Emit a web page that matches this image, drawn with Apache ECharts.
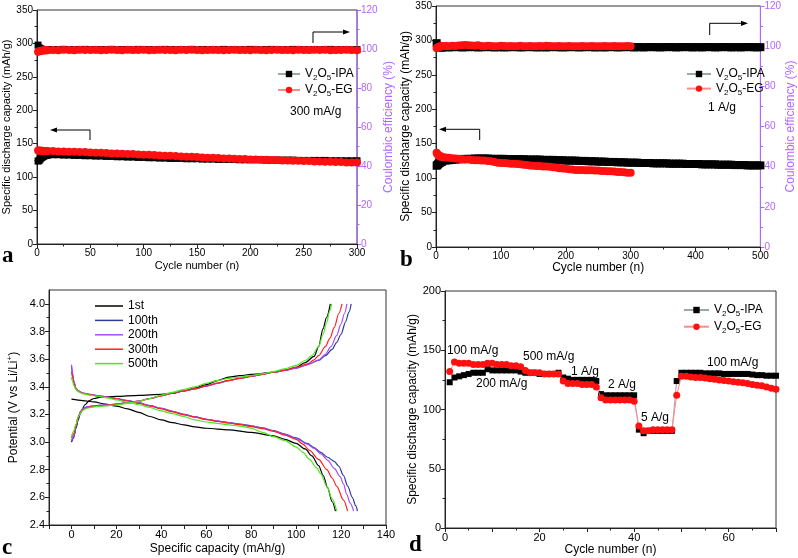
<!DOCTYPE html>
<html><head><meta charset="utf-8">
<script src="https://cdn.jsdelivr.net/npm/echarts@6/dist/echarts.min.js"></script>
<style>html,body{margin:0;padding:0;background:#fff}#c{width:798px;height:558px}</style>
</head><body><div id="c"></div>
<script>
// ---------- Panel a (300 mA/g) ----------
const A_CYC = [1,2,3,4,5,6,7,8,9,10,15,20,25,30,35,40,45,50,55,60,65,70,75,80,85,90,95,100,105,110,115,120,125,130,135,140,145,150,155,160,165,170,175,180,185,190,195,200,205,210,215,220,225,230,235,240,245,250,255,260,265,270,275,280,285,290,295,300];
const A_IPA_CAP = [124,125,127,129,130,131,132,132.5,133,133,
 133.5,133.5,133,133,132.5,132.5,132,132,131.5,131.5,
 131,131,130.5,130.5,130,130,129.5,129.5,129,129,
 128.5,128.5,128,128,128,127.5,127.5,127.5,127,127,
 127,126.5,126.5,126.5,126.5,126,126,126,126,126,
 125.5,125.5,125.5,125.5,125.5,125.5,125,125,125,125,
 125,125,124.5,124.5,124.5,124.5,124.5,124.5];
const A_EG_CAP = [140,140,139.5,139.5,139.5,139,139,139,139,139,
 139,138.5,138.5,138,138,137.5,137.5,137,136.5,136.5,
 136,135.5,135.5,135,134.5,134.5,134,133.5,133.5,133,
 132.5,132,132,131.5,131,130.5,130.5,130,129.5,129,
 129,128.5,128,128,127.5,127,127,126.5,126.5,126,
 126,125.5,125.5,125,125,124.5,124.5,124,124,123.5,
 123.5,123,123,122.5,122.5,122,122,122];
const A_IPA_CE = [102,100.6,100.2,99.9,99.8,99.7,99.7,99.6,99.7,99.6,
 99.7,99.6,99.8,99.7,99.6,99.7,99.8,99.7,99.6,99.7,
 99.7,99.8,99.6,99.7,99.7,99.6,99.8,99.7,99.7,99.6,
 99.7,99.8,99.7,99.6,99.7,99.7,99.8,99.6,99.7,99.7,
 99.6,99.7,99.8,99.7,99.7,99.6,99.7,99.8,99.7,99.6,
 99.7,99.8,99.7,99.6,99.7,99.8,99.7,99.7,99.6,99.7,
 99.7,99.7,99.8,99.6,99.7,99.7,99.6,99.7];
const A_EG_CE = [98.6,98.8,99.0,99.1,99.2,99.2,99.3,99.3,99.4,99.4,
 99.5,99.4,99.6,99.5,99.4,99.6,99.5,99.5,99.6,99.4,
 99.5,99.6,99.5,99.4,99.6,99.5,99.5,99.6,99.4,99.5,
 99.6,99.5,99.5,99.4,99.6,99.5,99.6,99.5,99.4,99.5,
 99.6,99.5,99.4,99.5,99.6,99.5,99.5,99.4,99.6,99.5,
 99.4,99.5,99.6,99.5,99.5,99.4,99.6,99.5,99.5,99.6,
 99.5,99.6,99.4,99.5,99.5,99.6,99.5,99.4];

// ---------- Panel b (1 A/g) ----------
const B_IPA_CYC = [1,2,3,4,5,6,7,8,9,10,15,20,25,30,35,40,45,50,55,60,65,70,75,80,85,90,95,100,105,110,115,120,125,130,135,140,145,150,155,160,165,170,175,180,185,190,195,200,205,210,215,220,225,230,235,240,245,250,255,260,265,270,275,280,285,290,295,300,305,310,315,320,325,330,335,340,345,350,355,360,365,370,375,380,385,390,395,400,405,410,415,420,425,430,435,440,445,450,455,460,465,470,475,480,485,490,495,500];
const B_IPA_CAP = [118,119,120,121,122,122.5,123,123.5,124,124.5,
 125.5,126,126.5,127,127.5,127.5,128,128,128,128.5,
 128.5,128.5,128.5,128.5,128,128,128,128,128,127.5,
 127.5,127.5,127.5,127.5,127.5,127,127,127,127,127,
 126.5,126.5,126.5,126.5,126,126,126,125.5,125.5,125.5,
 125.5,125,125,125,124.5,124.5,124.5,124,124,124,
 123.5,123.5,123.5,123,123,123,122.5,122.5,122.5,122.5,
 122,122,122,122,121.5,121.5,121.5,121.5,121.5,121,
 121,121,121,121,120.5,120.5,120.5,120.5,120.5,120,
 120,120,120,120,119.5,119.5,119.5,119.5,119.5,119,
 119,119,119,118.5,118.5,118.5,118.5,118.5];
const B_IPA_CE = [101.5,100.2,99.8,99.6,99.5,99.5,99.4,99.5,99.4,99.5,
 99.5,99.4,99.5,99.6,99.5,99.4,99.5,99.5,99.6,99.5,
 99.4,99.5,99.5,99.6,99.5,99.4,99.5,99.5,99.4,99.5,
 99.5,99.6,99.5,99.4,99.5,99.5,99.6,99.5,99.4,99.5,
 99.5,99.4,99.5,99.6,99.5,99.5,99.4,99.5,99.5,99.6,
 99.5,99.4,99.5,99.5,99.6,99.5,99.4,99.5,99.5,99.4,
 99.5,99.6,99.5,99.4,99.5,99.5,99.6,99.5,99.4,99.5,
 99.5,99.4,99.5,99.6,99.5,99.5,99.4,99.5,99.5,99.6,
 99.5,99.4,99.5,99.5,99.6,99.5,99.4,99.5,99.5,99.4,
 99.5,99.6,99.5,99.4,99.5,99.5,99.6,99.5,99.4,99.5,
 99.5,99.4,99.5,99.6,99.5,99.5,99.4,99.5];
const B_EG_CYC = [1,2,3,4,5,6,7,8,9,10,15,20,25,30,35,40,45,50,55,60,65,70,75,80,85,90,95,100,105,110,115,120,125,130,135,140,145,150,155,160,165,170,175,180,185,190,195,200,205,210,215,220,225,230,235,240,245,250,255,260,265,270,275,280,285,290,295,300];
const B_EG_CAP = [137,135,134,133,132.5,132,131.5,131,131,130.5,
 130,129.5,129,128.5,128,127.5,127,127,126.5,126,
 126,125.5,125.5,125,124.5,123.5,122.5,122,122,121.5,
 121,121,120.5,120,119.5,119,118.5,118,117.5,117.5,
 117,117,116.5,116,115.5,114.5,114,113.5,113,112.5,
 112,112,112,111.5,111.5,111.5,111,111,110.5,110.5,
 110,110,109.5,109,109,108.5,108,108];
const B_EG_CE = [99.0,99.2,99.4,99.6,99.7,99.8,99.9,99.9,100.0,100.0,
 100.1,100.0,100.2,100.1,100.3,100.4,100.6,100.5,100.3,100.2,
 100.4,100.1,100.0,100.2,100.1,99.9,100.0,100.2,100.1,100.0,
 100.1,99.9,100.0,100.2,100.0,99.9,100.1,100.0,99.9,100.1,
 100.0,100.2,100.1,99.9,100.0,100.1,100.0,99.9,100.1,100.0,
 99.9,100.0,100.1,100.0,99.9,100.1,100.0,100.0,99.9,100.1,
 100.0,99.9,100.1,100.0,99.9,100.0,100.1,100.0];

// ---------- Panel c (charge / discharge profiles) ----------
const C_NAMES = ['1st','100th','200th','300th','500th'];
const C1_CHG = [[0,3.00],[1,3.04],[2,3.10],[3,3.16],[4,3.21],[6,3.27],[8,3.30],[10,3.315],[13,3.325],[20,3.33],[30,3.338],[40,3.345],[45,3.352],[50,3.37],[55,3.39],[60,3.415],[65,3.445],[70,3.47],[75,3.48],[80,3.49],[90,3.505],[95,3.52],[100,3.54],[104,3.575],[108,3.62],[110,3.69],[112,3.82],[113.5,3.9],[115.2,4.0]];
const C1_DIS = [[0,3.31],[5,3.30],[10,3.29],[15,3.275],[20,3.26],[25,3.24],[30,3.215],[35,3.185],[40,3.16],[45,3.14],[50,3.125],[55,3.11],[60,3.10],[70,3.088],[80,3.07],[90,3.045],[95,3.02],[100,2.99],[104,2.95],[107,2.90],[110,2.83],[112,2.76],[114,2.67],[116,2.57],[117.5,2.5]];
const C100_CHG = [[0,3.0],[1,3.03],[2,3.11],[3,3.18],[4,3.22],[5,3.24],[7,3.255],[10,3.262],[15,3.268],[20,3.275],[25,3.285],[30,3.297],[35,3.315],[40,3.335],[45,3.355],[50,3.37],[55,3.385],[60,3.405],[65,3.425],[70,3.445],[75,3.46],[80,3.475],[85,3.49],[90,3.505],[95,3.518],[100,3.535],[105,3.56],[110,3.59],[113,3.625],[116,3.67],[118,3.72],[120,3.78],[122,3.87],[123.5,3.94],[124.5,4.0]];
const C100_DIS = [[0,3.55],[0.5,3.49],[1,3.44],[2,3.39],[3,3.37],[5,3.355],[8,3.345],[12,3.335],[16,3.325],[20,3.315],[25,3.30],[30,3.283],[35,3.263],[40,3.243],[45,3.222],[50,3.20],[55,3.182],[60,3.165],[65,3.152],[70,3.141],[75,3.13],[80,3.118],[85,3.103],[90,3.083],[95,3.058],[100,3.03],[105,2.99],[108,2.96],[111,2.925],[114,2.89],[117,2.86],[119,2.825],[121,2.76],[123,2.68],[125,2.60],[126.5,2.54],[127.3,2.5]];
const C200_CHG = [[0,3.01],[1,3.04],[2,3.11],[3,3.18],[4,3.22],[5,3.24],[7,3.255],[10,3.262],[15,3.268],[20,3.275],[25,3.285],[30,3.297],[35,3.315],[40,3.335],[45,3.355],[50,3.37],[55,3.385],[60,3.405],[65,3.425],[70,3.445],[75,3.46],[80,3.475],[85,3.49],[90,3.505],[95,3.518],[100,3.535],[105,3.56],[110,3.595],[113,3.635],[115.5,3.69],[118,3.77],[120,3.855],[121.5,3.93],[122.6,4.0]];
const C200_DIS = [[0,3.56],[0.5,3.50],[1,3.445],[2,3.39],[3,3.37],[5,3.355],[8,3.345],[12,3.335],[16,3.325],[20,3.315],[25,3.30],[30,3.283],[35,3.263],[40,3.243],[45,3.222],[50,3.20],[55,3.182],[60,3.165],[65,3.152],[70,3.14],[75,3.128],[80,3.115],[85,3.10],[90,3.08],[95,3.055],[100,3.025],[105,2.985],[108,2.955],[111,2.915],[114,2.87],[117,2.81],[119.6,2.75],[121,2.70],[122.6,2.62],[124,2.56],[125.6,2.5]];
const C300_CHG = [[0,3.03],[1,3.06],[2,3.12],[3,3.18],[4,3.215],[5,3.235],[7,3.25],[10,3.258],[15,3.265],[20,3.272],[25,3.283],[30,3.296],[35,3.314],[40,3.334],[45,3.354],[50,3.37],[55,3.386],[60,3.406],[65,3.426],[70,3.446],[75,3.462],[80,3.477],[85,3.49],[90,3.505],[95,3.52],[100,3.54],[105,3.565],[108,3.595],[110,3.625],[113,3.69],[115,3.75],[117,3.83],[119,3.93],[120.4,4.0]];
const C300_DIS = [[0,3.51],[0.5,3.47],[1,3.43],[2,3.385],[3,3.368],[5,3.353],[8,3.343],[12,3.333],[16,3.323],[20,3.312],[25,3.297],[30,3.28],[35,3.26],[40,3.24],[45,3.218],[50,3.197],[55,3.18],[60,3.163],[65,3.15],[70,3.138],[75,3.126],[80,3.112],[85,3.097],[90,3.077],[95,3.05],[100,3.02],[103,2.985],[106,2.94],[110,2.875],[113.7,2.80],[116,2.74],[118.1,2.68],[121.1,2.58],[122.9,2.5]];
const C500_CHG = [[0,3.04],[1,3.08],[2,3.13],[3,3.18],[4,3.21],[5,3.23],[7,3.245],[10,3.255],[15,3.262],[20,3.27],[25,3.28],[30,3.295],[35,3.315],[40,3.34],[45,3.36],[50,3.38],[55,3.40],[60,3.425],[65,3.445],[70,3.46],[75,3.47],[80,3.48],[85,3.495],[90,3.51],[95,3.53],[100,3.555],[104,3.59],[107,3.625],[110,3.69],[112,3.78],[113.5,3.86],[115,3.95],[115.8,4.0]];
const C500_DIS = [[0,3.47],[0.5,3.44],[1,3.41],[2,3.38],[3,3.365],[5,3.35],[8,3.34],[12,3.33],[16,3.32],[20,3.305],[25,3.288],[30,3.27],[35,3.25],[40,3.225],[45,3.205],[50,3.185],[55,3.16],[60,3.145],[65,3.135],[70,3.125],[75,3.115],[80,3.1],[85,3.07],[90,3.04],[95,3.01],[100,2.965],[103,2.925],[106,2.875],[109,2.815],[111,2.77],[113.7,2.68],[116,2.59],[118.1,2.5]];

// ---------- Panel d (rate capability) ----------
const D_CYC = [1,2,3,4,5,6,7,8,9,10,11,12,13,14,15,16,17,18,19,20,21,22,23,24,25,26,27,28,29,30,31,32,33,34,35,36,37,38,39,40,41,42,43,44,45,46,47,48,49,50,51,52,53,54,55,56,57,58,59,60,61,62,63,64,65,66,67,68,69,70];
const D_IPA = [123,127,128,129,130,131,131,131,134,133, 133,133,133,133,133,132,131,131,131,130,
 130,130,130,131,127,126,125,125,125,125, 125,124,113,112,112,112,112,112,112,112,
 83,80,82,82,82,82,82,82,124,131, 131,131,131,131,130.5,130.5,130.5,130.5,130,130,
 130,130,130,130,129.5,129,129,128.5,128.5,128.5];
const D_EG = [132,140,139,139,139,138,138,138,139,139, 138,138,138,137,137,136,133,131,131,131,
 130,130,130,130,124,122,122,122,121,121, 121,119,110,108,108,108,108,108,108,107,
 86,82,82,83,83,83,83,83,112,128, 128,127.5,127,127,126.5,126,125.5,125,124.5,124,
 123.5,123,122.5,122,121,120.5,120,119,118,117];
const D_RATES = ['100 mA/g','200 mA/g','500 mA/g','1 A/g','2 A/g','5 A/g','100 mA/g'];

// ---------- chart ----------
const FONT = '"Liberation Sans", Arial, sans-serif';
const AX = '#222';
const PURPLE = '#b266ff';
const RED = '#ff1010';
const zip = (xs, ys) => xs.map((x, i) => [x, ys[i]]);

function vAxis(o) {
  const col = o.color || AX;
  const ax = {
    type: 'value', gridIndex: o.grid, min: o.min, max: o.max,
    name: o.name, nameLocation: 'middle', nameGap: o.nameGap,
    nameTextStyle: Object.assign({fontSize: o.nameSize || 11, color: o.nameColor || '#000', fontFamily: FONT}, o.nameStyle || {}),
    axisLine: {show: true, onZero: false, lineStyle: {color: col, width: 1}},
    axisTick: {show: true, length: 4, lineStyle: {color: col}},
    minorTick: {show: o.minor !== false, splitNumber: 2, length: 2.5, lineStyle: {color: col}},
    axisLabel: {fontSize: o.labelSize || 10, color: o.labelColor || '#000', margin: 4, fontFamily: FONT},
    splitLine: {show: false}, minorSplitLine: {show: false}
  };
  if (o.interval !== undefined) ax.interval = o.interval;
  if (o.position) ax.position = o.position;
  if (o.nameRotate !== undefined) ax.nameRotate = o.nameRotate;
  if (o.labels) ax.axisLabel.customValues = o.labels;
  if (o.ticks) ax.axisTick.customValues = o.ticks;
  if (o.fmt) ax.axisLabel.formatter = o.fmt;
  return ax;
}

const subName = {aIPA: 'IPA', aEG: 'EG', bIPA: 'IPA', bEG: 'EG', dIPA: 'IPA', dEG: 'EG'};
const legRich = {
  t: {fontSize: 12, lineHeight: 16, color: '#000', fontFamily: FONT, verticalAlign: 'middle'},
  s: {fontSize: 8, lineHeight: 10, color: '#000', fontFamily: FONT, verticalAlign: 'bottom'}
};
const legFmt = n => '{t|V}{s|2}{t|O}{s|5}{t|-' + subName[n] + '}';

function dotSeries(name, xi, yi, data, isIPA, size, z) {
  return {
    name, type: 'line', xAxisIndex: xi, yAxisIndex: yi, data,
    symbol: isIPA ? 'rect' : 'circle', symbolSize: size, showAllSymbol: true,
    itemStyle: {color: isIPA ? '#000' : RED},
    lineStyle: {color: isIPA ? '#9aa8a8' : '#ff8a8a', width: 1},
    z: z, silent: true
  };
}

const C_COLORS = ['#000000', '#2e3c9c', '#a64dff', '#ff2222', '#4be81e'];
const C_DATA = [[C1_CHG, C1_DIS], [C100_CHG, C100_DIS], [C200_CHG, C200_DIS], [C300_CHG, C300_DIS], [C500_CHG, C500_DIS]];
const cSeries = [];
C_DATA.forEach((pair, i) => {
  pair.forEach(d => cSeries.push({
    name: C_NAMES[i], type: 'line', xAxisIndex: 2, yAxisIndex: 4, data: d,
    symbol: 'none', smooth: 0.3, smoothMonotone: 'x',
    lineStyle: {color: C_COLORS[i], width: 1.2}, itemStyle: {color: C_COLORS[i]}, silent: true
  }));
});

function txt(x, y, s, size, extra) {
  return Object.assign({type: 'text', x, y, silent: true,
    style: {text: s, fontSize: size, fontFamily: FONT, fill: '#000', align: 'left', verticalAlign: 'middle'}}, extra || {});
}
function letter(x, y, s) {
  return {type: 'text', x, y, silent: true,
    style: {text: s, fontSize: 23, fontWeight: 'bold', fontFamily: '"Liberation Serif", "DejaVu Serif", serif', fill: '#000', align: 'left', verticalAlign: 'middle'}};
}
function arrow(points, dir) {
  const tip = points[points.length - 1];
  const head = dir === 'left'
    ? [[tip[0] - 4, tip[1]], [tip[0] + 3, tip[1] - 2.6], [tip[0] + 3, tip[1] + 2.6]]
    : [[tip[0] + 4, tip[1]], [tip[0] - 3, tip[1] - 2.6], [tip[0] - 3, tip[1] + 2.6]];
  return [
    {type: 'polyline', silent: true, shape: {points}, style: {stroke: '#000', lineWidth: 1, fill: null}},
    {type: 'polygon', silent: true, shape: {points: head}, style: {fill: '#000'}}
  ];
}

const option = {
  animation: false,
  backgroundColor: '#fff',
  grid: [
    {left: 37, top: 10, width: 320, height: 234, show: true, borderColor: '#333', borderWidth: 1, backgroundColor: 'transparent'},
    {left: 436, top: 6, width: 329, height: 241, show: true, borderColor: '#333', borderWidth: 1, backgroundColor: 'transparent'},
    {left: 49, top: 290, width: 337, height: 235, show: true, borderColor: '#333', borderWidth: 1, backgroundColor: 'transparent'},
    {left: 445, top: 291, width: 331, height: 237, show: true, borderColor: '#333', borderWidth: 1, backgroundColor: 'transparent'}
  ],
  xAxis: [
    vAxis({grid: 0, min: 0, max: 300, interval: 50, name: 'Cycle number (n)', nameGap: 16, nameSize: 11}),
    vAxis({grid: 1, min: 0, max: 500, interval: 100, name: 'Cycle number (n)', nameGap: 15, nameSize: 12}),
    vAxis({grid: 2, min: -10, max: 140, interval: 10, minor: false, name: 'Specific capacity (mAh/g)', nameGap: 18, nameSize: 12, labelSize: 11,
      labels: [0,20,40,60,80,100,120,140]}),
    vAxis({grid: 3, min: 0, max: 70, interval: 10, name: 'Cycle number (n)', nameGap: 16, nameSize: 12, labelSize: 11,
      labels: [0,20,40,60]})
  ],
  yAxis: [
    vAxis({grid: 0, min: 0, max: 350, interval: 50, name: 'Specific discharge capacity (mAh/g)', nameGap: 24, nameSize: 11, nameRotate: 90}),
    vAxis({grid: 0, min: 0, max: 120, interval: 20, position: 'right', color: PURPLE, labelColor: PURPLE, nameColor: PURPLE,
      name: 'Coulombic efficiency (%)', nameGap: 26, nameSize: 12, nameRotate: 90}),
    vAxis({grid: 1, min: 0, max: 350, interval: 50, name: 'Specific discharge capacity (mAh/g)', nameGap: 23, nameSize: 12, nameRotate: 90}),
    vAxis({grid: 1, min: 0, max: 120, interval: 20, position: 'right', color: PURPLE, labelColor: PURPLE, nameColor: PURPLE,
      name: 'Coulombic efficiency (%)', nameGap: 22, nameSize: 12, nameRotate: 90}),
    vAxis({grid: 2, min: 2.4, max: 4.1, interval: 0.2, name: '{t|Potential (V vs Li/Li}{p|+}{t|)}', nameGap: 27, nameSize: 12, labelSize: 11, nameRotate: 90,
      labels: [2.4,2.6,2.8,3.0,3.2,3.4,3.6,3.8,4.0], ticks: [2.4,2.6,2.8,3.0,3.2,3.4,3.6,3.8,4.0],
      fmt: v => Number(v).toFixed(1),
      nameStyle: {rich: {t: {fontSize: 12, fontFamily: FONT, color: '#000', lineHeight: 16}, p: {fontSize: 8, fontFamily: FONT, color: '#000', lineHeight: 16, verticalAlign: 'top'}}}}),
    vAxis({grid: 3, min: 0, max: 200, interval: 50, name: 'Specific discharge capacity (mAh/g)', nameGap: 23, nameSize: 12, labelSize: 11, nameRotate: 90})
  ],
  legend: [
    {data: ['aIPA', 'aEG'], left: 272, top: 63, orient: 'vertical', itemWidth: 22, itemHeight: 8, itemGap: 2, formatter: legFmt, textStyle: {rich: legRich}, selectedMode: false},
    {data: ['bIPA', 'bEG'], left: 681, top: 63, orient: 'vertical', itemWidth: 24, itemHeight: 8, itemGap: 0.6, formatter: legFmt, textStyle: {rich: legRich}, selectedMode: false},
    {data: C_NAMES, left: 90, top: 294, orient: 'vertical', icon: 'rect', itemWidth: 28, itemHeight: 1.5, itemGap: 0.4, selectedMode: false,
      textStyle: {fontSize: 12, fontFamily: FONT, color: '#000', lineHeight: 14}},
    {data: ['dIPA', 'dEG'], left: 678, top: 299, orient: 'vertical', itemWidth: 25, itemHeight: 8, itemGap: 2.7, formatter: legFmt, textStyle: {rich: legRich}, selectedMode: false}
  ],
  series: [
    dotSeries('aIPA', 0, 0, zip(A_CYC, A_IPA_CAP), true, 7, 2),
    dotSeries('aIPAce', 0, 1, zip(A_CYC, A_IPA_CE), true, 7, 2),
    dotSeries('aEG', 0, 0, zip(A_CYC, A_EG_CAP), false, 8, 3),
    dotSeries('aEGce', 0, 1, zip(A_CYC, A_EG_CE), false, 8, 3),
    dotSeries('bIPA', 1, 2, zip(B_IPA_CYC, B_IPA_CAP), true, 8, 2),
    dotSeries('bIPAce', 1, 3, zip(B_IPA_CYC, B_IPA_CE), true, 8, 2),
    dotSeries('bEG', 1, 2, zip(B_EG_CYC, B_EG_CAP), false, 8, 3),
    dotSeries('bEGce', 1, 3, zip(B_EG_CYC, B_EG_CE), false, 8, 3),
    ...cSeries,
    dotSeries('dIPA', 3, 5, zip(D_CYC, D_IPA), true, 6, 2),
    dotSeries('dEG', 3, 5, zip(D_CYC, D_EG), false, 7, 3)
  ],
  graphic: [
    letter(2, 256, 'a'), letter(400, 260, 'b'), letter(2, 548, 'c'), letter(409, 545, 'd'),
    txt(290, 112, '300 mA/g', 12),
    txt(708, 108, '1 A/g', 12),
    ...arrow([[90, 140], [90, 130], [54, 130]], 'left'),
    ...arrow([[313, 43], [313, 32], [346, 32]], 'right'),
    ...arrow([[479.7, 140], [479.7, 129.3], [443, 129.3]], 'left'),
    ...arrow([[709.7, 35], [709.7, 23.3], [744, 23.3]], 'right'),
    txt(447, 351, D_RATES[0], 12),
    txt(476, 384, D_RATES[1], 12),
    txt(523, 357, D_RATES[2], 12),
    txt(571, 372, D_RATES[3], 12),
    txt(608, 385, D_RATES[4], 12),
    txt(641, 418, D_RATES[5], 12),
    txt(707, 363, D_RATES[6], 12)
  ]
};

const chart = echarts.init(document.getElementById('c'), null, {renderer: 'canvas'});
chart.setOption(option);
</script></body></html>
